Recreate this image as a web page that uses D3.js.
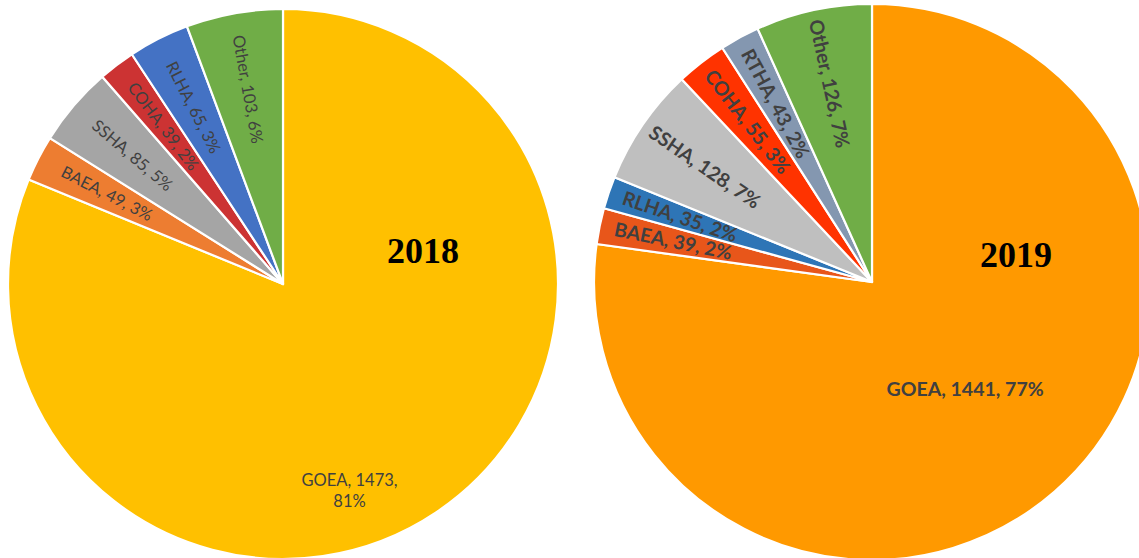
<!DOCTYPE html>
<html>
<head>
<meta charset="utf-8">
<script src="https://cdn.jsdelivr.net/npm/d3@7"></script>
<style>
  html, body { margin: 0; padding: 0; background: #ffffff; }
  svg { display: block; }
</style>
</head>
<body>
<svg id="chart" width="1139" height="558"></svg>
<script>
// Species counts per year, listed clockwise from 12 o'clock
const categories2018 = ["GOEA", "BAEA", "SSHA", "COHA", "RLHA", "Other"];
const values2018 = [1473, 49, 85, 39, 65, 103];
const percents2018 = ["81%", "3%", "5%", "2%", "3%", "6%"];

const categories2019 = ["GOEA", "BAEA", "RLHA", "SSHA", "COHA", "RTHA", "Other"];
const values2019 = [1441, 39, 35, 128, 55, 43, 126];
const percents2019 = ["77%", "2%", "2%", "7%", "3%", "2%", "7%"];

const palette2018 = ["#FFC000", "#ED7D31", "#A5A5A5", "#CC3333", "#4472C4", "#70AD47"];
const palette2019 = ["#FF9900", "#E8561A", "#2E75B6", "#BFBFBF", "#FF3300", "#8497B0", "#70AD47"];

const svg = d3.select("#chart");

function drawPie(opts) {
  const rows = opts.categories.map((c, i) => ({
    name: c, value: opts.values[i], pct: opts.percents[i]
  }));
  const color = d3.scaleOrdinal().domain(opts.categories).range(opts.palette);

  const pie = d3.pie().sort(null).value(d => d.value);
  const arcs = pie(rows);
  const arc = d3.arc().innerRadius(0).outerRadius(opts.r);
  const labelArc = d3.arc().innerRadius(opts.r * opts.labelRadius).outerRadius(opts.r * opts.labelRadius);

  const g = svg.append("g").attr("transform", `translate(${opts.cx},${opts.cy})`);

  g.selectAll("path.slice")
    .data(arcs)
    .join("path")
    .attr("class", "slice")
    .attr("d", arc)
    .attr("fill", d => color(d.data.name))
    .attr("stroke", "#ffffff")
    .attr("stroke-width", 2.2)
    .attr("stroke-linejoin", "round");

  // Radial labels for the small slices, reading from the rim toward the centre
  const small = arcs.slice(1);
  g.selectAll("text.radial")
    .data(small)
    .join("text")
    .attr("class", "radial")
    .attr("transform", d => {
      const [x, y] = labelArc.centroid(d);
      const mid = (d.startAngle + d.endAngle) / 2 * 180 / Math.PI;
      return `translate(${x},${y}) rotate(${mid - 270})`;
    })
    .attr("text-anchor", "middle")
    .attr("dy", "0.35em")
    .attr("font-family", "Lato, 'Noto Sans', sans-serif")
    .attr("font-size", opts.fontSize)
    .attr("font-weight", opts.fontWeight)
    .attr("fill", "#404040")
    .text(d => `${d.data.name}, ${d.data.value}, ${d.data.pct}`);

  // Label for the dominant slice
  const main = arcs[0];
  const mainAngle = (main.startAngle + main.endAngle) / 2 + opts.mainShift;
  const mx = Math.sin(mainAngle) * opts.r * opts.mainRadius;
  const my = -Math.cos(mainAngle) * opts.r * opts.mainRadius;
  const mainText = g.append("text")
    .attr("transform", `translate(${mx},${my})`)
    .attr("text-anchor", "middle")
    .attr("font-family", "Lato, 'Noto Sans', sans-serif")
    .attr("font-size", opts.fontSize)
    .attr("font-weight", opts.fontWeight)
    .attr("fill", "#404040");
  opts.mainLines(main.data).forEach((line, i, all) => {
    mainText.append("tspan")
      .attr("x", 0)
      .attr("y", (i - (all.length - 1) / 2) * opts.fontSize * 1.25)
      .attr("dy", "0.35em")
      .text(line);
  });

  // Year caption
  svg.append("text")
    .attr("x", opts.yearX)
    .attr("y", opts.yearY)
    .attr("text-anchor", "middle")
    .attr("font-family", "'Liberation Serif', 'Times New Roman', serif")
    .attr("font-weight", "bold")
    .attr("font-size", 36)
    .attr("fill", "#000000")
    .text(opts.year);
}

drawPie({
  categories: categories2018, values: values2018, percents: percents2018, palette: palette2018,
  cx: 283, cy: 284, r: 275, labelRadius: 0.72,
  fontSize: 16.5, fontWeight: "normal",
  mainShift: 16 * Math.PI / 180, mainRadius: 0.79,
  mainLines: d => [`${d.name}, ${d.value},`, d.pct],
  year: "2018", yearX: 423, yearY: 263
});

drawPie({
  categories: categories2019, values: values2019, percents: percents2019, palette: palette2019,
  cx: 872, cy: 282, r: 278, labelRadius: 0.73,
  fontSize: 19.5, fontWeight: "bold",
  mainShift: 0, mainRadius: 0.51,
  mainLines: d => [`${d.name}, ${d.value}, ${d.pct}`],
  year: "2019", yearX: 1016, yearY: 267
});
</script>
</body>
</html>
